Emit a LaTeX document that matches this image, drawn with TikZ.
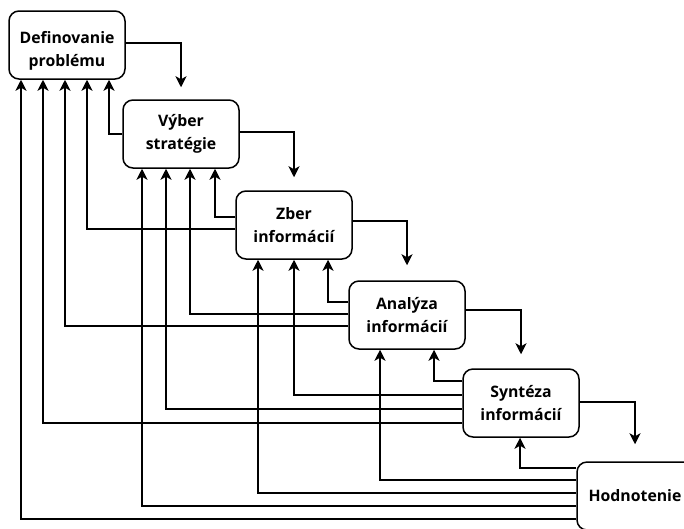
\documentclass[tikz,border=0pt]{standalone}
\usepackage{fontspec}
\setmainfont{Open Sans}
\usetikzlibrary{arrows.meta,calc}

\tikzset{
  stage/.style={draw, line width=1.5pt, rounded corners=10pt, fill=white,
    minimum width=116pt, minimum height=68pt, align=center, inner sep=0pt,
    font=\fontsize{15.8}{22.5}\selectfont\bfseries},
  link/.style={line width=1.5pt, -{Stealth[length=11pt,width=11pt,inset=3pt]}},
}

\begin{document}
\begin{tikzpicture}[x=1pt,y=-1pt]
  \useasboundingbox (0,0) rectangle (684,528);
  \clip (0,0) rectangle (684,528);

  % stages of the process (the strut sets the first stage's text a little lower)
  \node[stage] (b1) at (67,45)  {\rule{0pt}{24pt}Definovanie\\problému};
  \node[stage] (b2) at (181,134) {Výber\\stratégie};
  \node[stage] (b3) at (294,225) {Zber\\informácií};
  \node[stage] (b4) at (407,315) {Analýza\\informácií};
  \node[stage] (b5) at (521,403) {Syntéza\\informácií};
  \node[stage] (b6) at (635,496) {Hodnotenie};

  % forward steps, each stopping just above the next stage
  \draw[link] (b1.east |- 0,43)  -| ($(b2.north)+(0,-12)$);
  \draw[link] (b2.east |- 0,132) -| ($(b3.north)+(0,-13)$);
  \draw[link] (b3.east |- 0,221) -| ($(b4.north)+(0,-15)$);
  \draw[link] (b4.east |- 0,310) -| ($(b5.north)+(0,-14)$);
  \draw[link] (b5.east |- 0,402) -| ($(b6.north)+(0,-17)$);

  % feedback from Výber stratégie
  \draw[link] (b2.west |- 0,134) -| (b1.south -| 109,0);
  % feedback from Zber informácií
  \draw[link] (b3.west |- 0,217) -| (b2.south -| 215,0);
  \draw[link] (b3.west |- 0,229) -| (b1.south -| 87,0);
  % feedback from Analýza informácií
  \draw[link] (b4.west |- 0,302) -| (b3.south -| 328,0);
  \draw[link] (b4.west |- 0,314) -| (b2.south -| 190,0);
  \draw[link] (b4.west |- 0,326) -| (b1.south -| 65,0);
  % feedback from Syntéza informácií
  \draw[link] (b5.west |- 0,381) -| (b4.south -| 434,0);
  \draw[link] (b5.west |- 0,395) -| (b3.south -| 294,0);
  \draw[link] (b5.west |- 0,409) -| (b2.south -| 166,0);
  \draw[link] (b5.west |- 0,423) -| (b1.south -| 43,0);
  % feedback from Hodnotenie
  \draw[link] (b6.west |- 0,468) -| (b5.south -| 520,0);
  \draw[link] (b6.west |- 0,480) -| (b4.south -| 380,0);
  \draw[link] (b6.west |- 0,493) -| (b3.south -| 258,0);
  \draw[link] (b6.west |- 0,506) -| (b2.south -| 142,0);
  \draw[link] (b6.west |- 0,519) -| (b1.south -| 21,0);
\end{tikzpicture}
\end{document}
